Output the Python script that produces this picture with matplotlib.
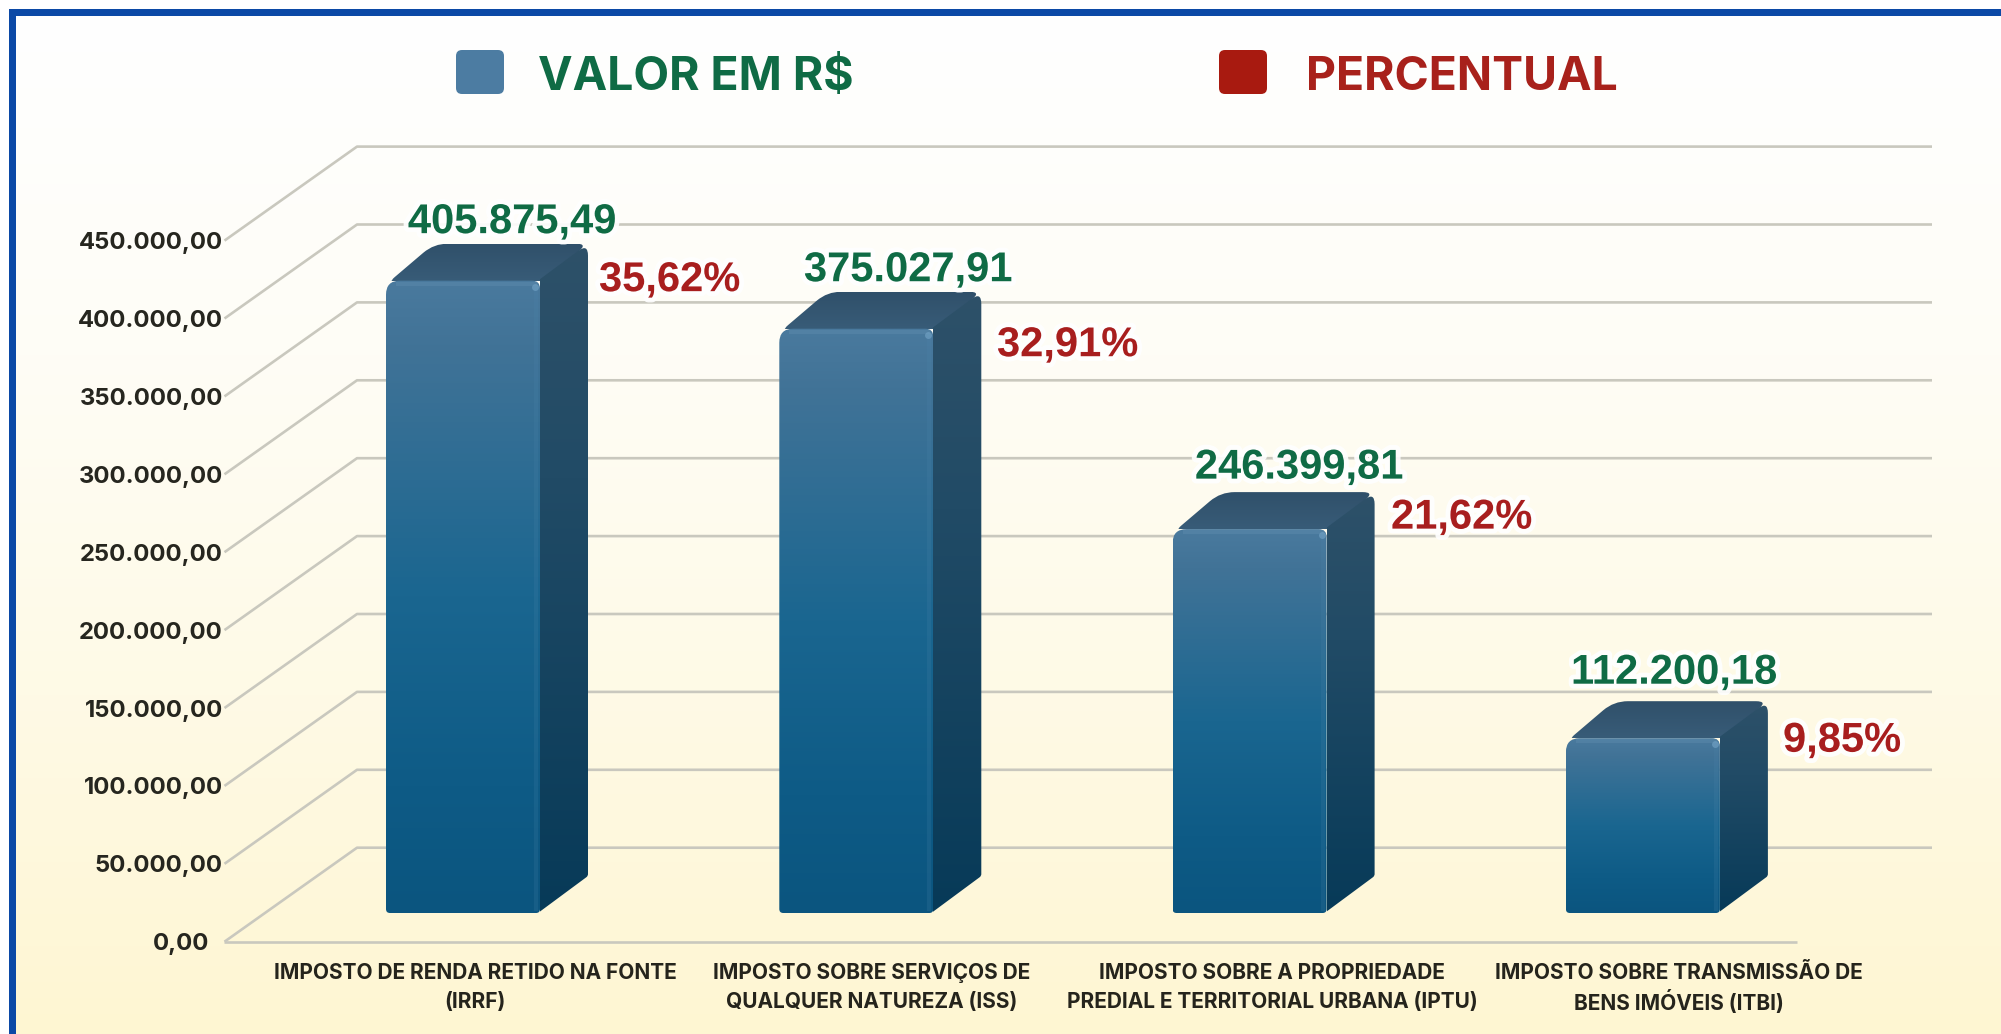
import matplotlib
matplotlib.use("Agg")
import numpy as np
import matplotlib.pyplot as plt
from matplotlib.patches import PathPatch, Rectangle, FancyBboxPatch
from matplotlib.path import Path
from matplotlib.colors import LinearSegmentedColormap as LSC
import matplotlib.patheffects as pe

# ---------- data ----------
categories = ["IMPOSTO DE RENDA RETIDO NA FONTE\n(IRRF)",
              "IMPOSTO SOBRE SERVIÇOS DE\nQUALQUER NATUREZA (ISS)",
              "IMPOSTO SOBRE A PROPRIEDADE\nPREDIAL E TERRITORIAL URBANA (IPTU)",
              "IMPOSTO SOBRE TRANSMISSÃO DE\nBENS IMÓVEIS (ITBI)"]
valores = [405875.49, 375027.91, 246399.81, 112200.18]
valores_txt = ["405.875,49", "375.027,91", "246.399,81", "112.200,18"]
percentuais_txt = ["35,62%", "32,91%", "21,62%", "9,85%"]
y_ticks = [0, 50000, 100000, 150000, 200000, 250000, 300000, 350000, 400000, 450000]
y_tick_labels = ["0,00", "50.000,00", "100.000,00", "150.000,00", "200.000,00",
                 "250.000,00", "300.000,00", "350.000,00", "400.000,00", "450.000,00"]
legend_labels = ["VALOR EM R$", "PERCENTUAL"]

# ---------- layout (pixels of the 2001x1034 canvas) ----------
W, H = 2001, 1034
PX_PER_CAT = 393.3
X0_PX = 463.0          # centre of first bar
BASE_PX = 913.0        # y of the bars' base
PX_PER_VAL = 77.9 / 50000
BAR_W = 154 / PX_PER_CAT
DX, DY = 48 / PX_PER_CAT, 37 / PX_PER_VAL

def xd(px): return (px - X0_PX) / PX_PER_CAT
def yd(py): return (BASE_PX - py) / PX_PER_VAL

GREEN = "#0F6B45"; RED = "#A81E1E"
plt.rcParams["font.family"] = ["Inter", "DejaVu Sans"]

fig = plt.figure(figsize=(W / 100, H / 100), dpi=100, facecolor="white")
ax = fig.add_axes([0, 0, 1, 1])
ax.axis("off")

# background
bg = LSC.from_list("bg", ["#FFFFFF", "#FEFDF6", "#FEFAE6", "#FEF6D2"])
ax.imshow(np.linspace(0, 1, 256)[:, None], cmap=bg, aspect="auto", zorder=0,
          extent=[xd(12), xd(W), yd(H), yd(12)])

# grid: front diagonal + back wall line per tick
FX, BX, ENDX = 224.5, 357.0, 1932.0
FY0, BY0 = 941.7, 847.7
grid_kw = dict(color="#C9C8BE", lw=1.9, zorder=1, solid_capstyle="butt")
for v in y_ticks:
    off = v * PX_PER_VAL
    ax.plot([xd(FX), xd(BX), xd(ENDX)],
            [yd(FY0 - off), yd(BY0 - off), yd(BY0 - off)], **grid_kw)
ax.plot([xd(FX), xd(1797)], [yd(FY0), yd(FY0)], **grid_kw)

def rounded(points, radii):
    """closed path in data coords with rounded corners (radius in pixels)"""
    pts = np.array([(px, py) for px, py in points], float)
    n = len(pts); verts = []; codes = []
    for i in range(n):
        p, a, b = pts[i], pts[i - 1], pts[(i + 1) % n]
        r = radii[i]
        u = (a - p) / np.linalg.norm(a - p); w = (b - p) / np.linalg.norm(b - p)
        s, e = p + u * r, p + w * r
        verts.append(s); codes.append(Path.MOVETO if i == 0 else Path.LINETO)
        verts.extend([p, e]); codes.extend([Path.CURVE3, Path.CURVE3])
    verts.append(verts[0]); codes.append(Path.CLOSEPOLY)
    verts = np.array(verts)
    return Path(np.c_[xd(verts[:, 0]), yd(verts[:, 1])], codes)

def to_px(x, v):
    return (X0_PX + x * PX_PER_CAT, BASE_PX - v * PX_PER_VAL)

cm_front = LSC.from_list("f", [(0, "#4A7A9E"), (0.1, "#417397"), (0.5, "#1A6690"),
                               (0.8, "#0E5B86"), (1, "#0B557F")])
cm_side = LSC.from_list("s", [(0, "#2E5169"), (0.35, "#214B66"), (1, "#073A58")])
cm_top = LSC.from_list("t", ["#30506A", "#385C78"])

def grad(cmap, path, x0, x1, y0, y1, z):
    patch = PathPatch(path, fc="none", ec="none", zorder=z)
    ax.add_patch(patch)
    im = ax.imshow(np.linspace(0, 1, 256)[:, None], cmap=cmap, aspect="auto", zorder=z,
                   extent=[x0, x1, y0, y1])
    im.set_clip_path(patch)

for i, v in enumerate(valores):
    L, R = i - BAR_W / 2, i + BAR_W / 2
    (lp, bp), (rp, tp) = to_px(L, 0), to_px(R, v)
    dxp, dyp = DX * PX_PER_CAT, DY * PX_PER_VAL
    # top
    top = rounded([(lp + 1, tp + 3), (lp + dxp, tp - dyp), (rp + dxp, tp - dyp), (rp, tp + 3)], [10, 14, 12, 2])
    grad(cm_top, top, L, R + DX, v, v + DY, 3)
    # side
    side = rounded([(rp - 2, tp), (rp + dxp, tp - dyp), (rp + dxp, bp - dyp), (rp - 2, bp)], [2, 12, 2, 2])
    grad(cm_side, side, R, R + DX, 0, v + DY, 3)
    # front
    front = rounded([(lp, tp), (rp, tp), (rp, bp), (lp, bp)], [14, 8, 4, 4])
    grad(cm_front, front, L, R, 0, v, 4)
    # bevel highlight
    ax.plot([xd(lp + 12), xd(rp - 5)], [yd(tp + 3)] * 2, color="#6F9ABA", lw=3, alpha=.25, zorder=5)
    ax.plot([xd(rp - 4)] * 2, [yd(tp + 6), yd(bp - 4)], color="#4F87AD", lw=3, alpha=.18, zorder=5)
    ax.plot(xd(rp - 5), yd(tp + 6), "o", ms=5, color="#6F9FC2", mew=0, alpha=.7, zorder=5)

# y tick labels
tick_right = [209] + [223] * 9
for v, lab, xr in zip(y_ticks, y_tick_labels, tick_right):
    ax.text(xd(xr), yd(FY0 - v * PX_PER_VAL), lab, ha="right", va="center_baseline",
            fontsize=17.2, fontweight="bold", color="#26261F", zorder=6)

# category labels
cat_px = [475, 872, 1272, 1679]
for x, lab in zip(cat_px, categories):
    a, b = lab.split("\n")
    for s, y in zip((a, b), (971, 1000)):
        ax.text(xd(x), yd(y), s, ha="center", va="center_baseline", fontsize=15,
                fontweight="bold", color="#25241C", zorder=6)

# value / percent labels
halo = [pe.withStroke(linewidth=7, foreground="#FFFFFF", alpha=.9)]
g_px = [512, 908, 1299, 1674]
g_dy = [-63, -63, -66, -70]
r_left = [599, 997, 1391, 1783]
r_dy = [-5, 12, -16, -2]
for i, v in enumerate(valores):
    ytop = BASE_PX - v * PX_PER_VAL
    ax.text(xd(g_px[i]), yd(ytop + g_dy[i]), valores_txt[i], ha="center", va="center_baseline",
            family="Liberation Sans", fontweight="bold", fontsize=30, color=GREEN,
            path_effects=halo, zorder=7)
    ax.text(xd(r_left[i]), yd(ytop + r_dy[i]), percentuais_txt[i], ha="left", va="center_baseline",
            family="Liberation Sans", fontweight="bold", fontsize=30, color=RED,
            path_effects=halo, zorder=7)

# legend
for x0, col, tx, lab, c in [(456, "#4C7CA2", 538, legend_labels[0], "#0F6B45"),
                            (1219, "#A81A10", 1306, legend_labels[1], "#A8211B")]:
    ax.add_patch(FancyBboxPatch((xd(x0 + 4), yd(90)), 40 / PX_PER_CAT, 36 / PX_PER_VAL,
                                boxstyle=f"round,pad={4/PX_PER_CAT},rounding_size={6/PX_PER_CAT}",
                                mutation_aspect=(1 / PX_PER_VAL) / (1 / PX_PER_CAT),
                                fc=col, ec="none", zorder=6))
    ax.text(xd(tx), yd(73), lab, ha="left", va="center_baseline", fontsize=33.4,
            fontweight="bold", color=c, zorder=6)

ax.set_xlim(xd(0), xd(W))
ax.set_ylim(yd(H), yd(0))

# frame (top and left blue bars)
fig.add_artist(Rectangle((9 / W, 0), 7 / W, 1 - 9 / H, transform=fig.transFigure, fc="#0B49A6", ec="none"))
fig.add_artist(Rectangle((9 / W, 1 - 16 / H), 1, 7 / H, transform=fig.transFigure, fc="#0B49A6", ec="none"))

fig.savefig("out.png", dpi=100)
